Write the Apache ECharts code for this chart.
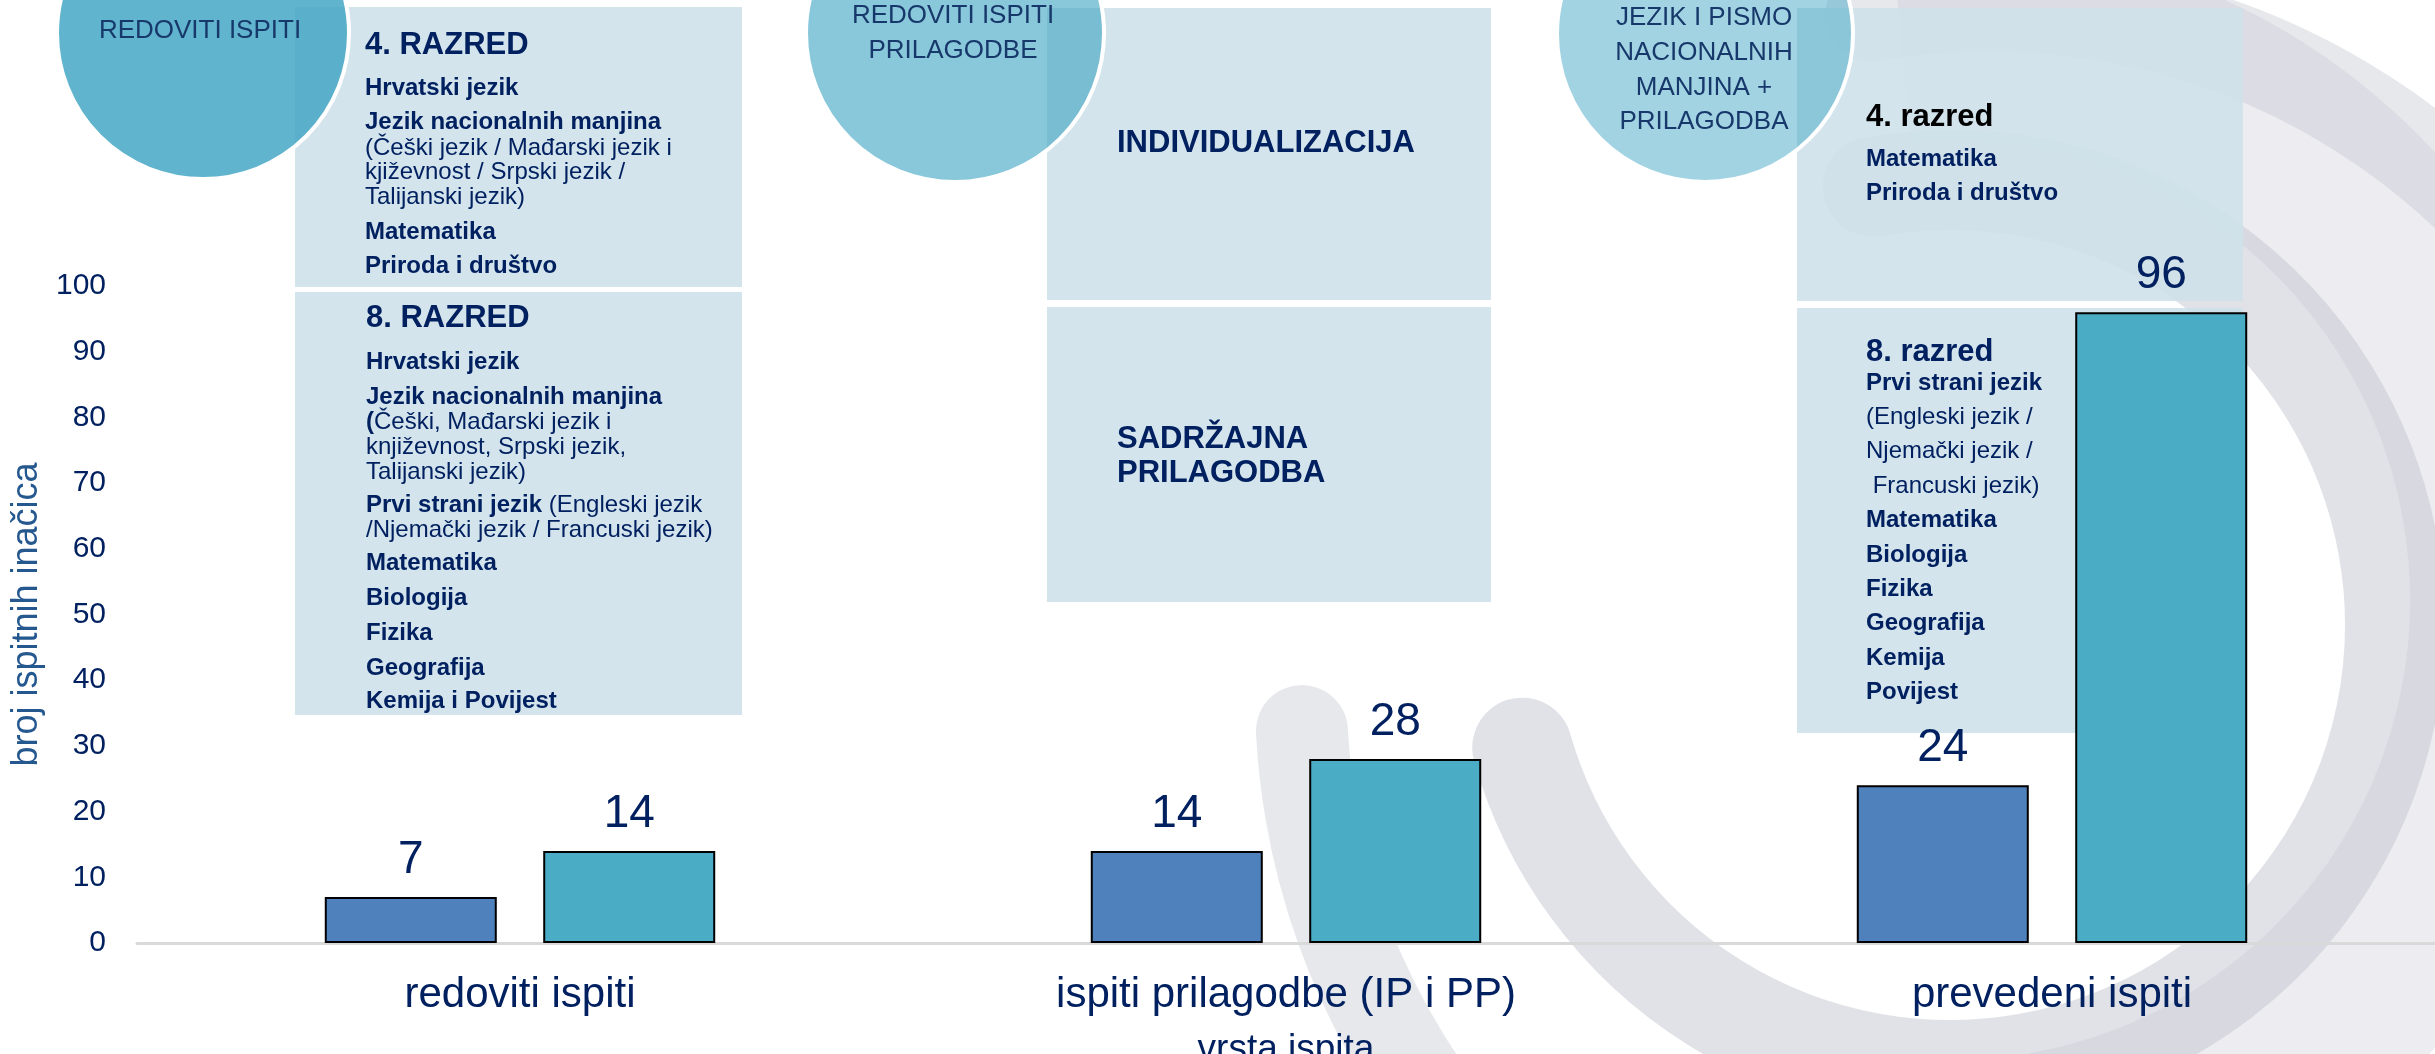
<!DOCTYPE html>
<html>
<head>
<meta charset="utf-8">
<title>broj ispitnih inačica</title>
<script src="https://cdn.jsdelivr.net/npm/echarts@6/dist/echarts.min.js"></script>
<style>
    html, body { margin: 0; padding: 0; background: #fff; }
    #main { width: 2435px; height: 1054px; }
</style>
</head>
<body>
<div id="main"></div>
<script>
// podaci
var categories = ['redoviti ispiti', 'ispiti prilagodbe (IP i PP)', 'prevedeni ispiti'];
var seriesNames = ['4. razred', '8. razred'];
var values4 = [7, 14, 24];
var values8 = [14, 28, 96];
var yMin = 0, yMax = 100, yStep = 10;

var FONT = 'Liberation Sans, Arial, sans-serif';
var NAVY = '#002060';

// tekst u okvirima: [y, tekst, vrsta]  h = naslov, b = bold, n = obično, r = rich, k = crni naslov
var boxA = [
    [45, '4. RAZRED', 'h'],
    [88, 'Hrvatski jezik', 'b'],
    [122, 'Jezik nacionalnih manjina', 'b'],
    [148, '(Češki jezik / Mađarski jezik i', 'n'],
    [172, 'kjiževnost / Srpski jezik /', 'n'],
    [197, 'Talijanski jezik)', 'n'],
    [232, 'Matematika', 'b'],
    [266, 'Priroda i društvo', 'b']
];
var boxB = [
    [318, '8. RAZRED', 'h'],
    [362, 'Hrvatski jezik', 'b'],
    [397, 'Jezik nacionalnih manjina', 'b'],
    [422, '{b|(}Češki, Mađarski jezik i', 'r'],
    [447, 'književnost, Srpski jezik,', 'n'],
    [472, 'Talijanski jezik)', 'n'],
    [505, '{b|Prvi strani jezik} (Engleski jezik', 'r'],
    [530, '/Njemački jezik / Francuski jezik)', 'n'],
    [563, 'Matematika', 'b'],
    [598, 'Biologija', 'b'],
    [633, 'Fizika', 'b'],
    [668, 'Geografija', 'b'],
    [701, 'Kemija i Povijest', 'b']
];
var boxC = [[143, 'INDIVIDUALIZACIJA', 'h']];
var boxD = [[439, 'SADRŽAJNA', 'h'], [473, 'PRILAGODBA', 'h']];
var boxE = [
    [117, '4. razred', 'k'],
    [159, 'Matematika', 'b'],
    [193, 'Priroda i društvo', 'b']
];
var boxF = [
    [352, '8. razred', 'h'],
    [383, 'Prvi strani jezik', 'b'],
    [417, '(Engleski jezik /', 'n'],
    [451, 'Njemački jezik /', 'n'],
    [486, ' Francuski jezik)', 'n'],
    [520, 'Matematika', 'b'],
    [555, 'Biologija', 'b'],
    [589, 'Fizika', 'b'],
    [623, 'Geografija', 'b'],
    [658, 'Kemija', 'b'],
    [692, 'Povijest', 'b']
];
var circle1 = [[31, 'REDOVITI ISPITI']];
var circle2 = [[16, 'REDOVITI ISPITI'], [51, 'PRILAGODBE']];
var circle3 = [[18, 'JEZIK I PISMO'], [53, 'NACIONALNIH'], [88, 'MANJINA +'], [122, 'PRILAGODBA']];

function lines(list, x) {
    return list.map(function (l) {
        var st = {
            text: l[1],
            fontFamily: FONT,
            fill: NAVY,
            fontSize: 24,
            fontWeight: 'bold',
            verticalAlign: 'middle',
            align: 'left'
        };
        if (l[2] === 'h' || l[2] === 'k') {
            st.fontSize = 31;
        }
        if (l[2] === 'k') {
            st.fill = '#000';
        }
        if (l[2] === 'n' || l[2] === 'r') {
            st.fontWeight = 'normal';
        }
        if (l[2] === 'r') {
            st.rich = {
                b: { fontWeight: 'bold', fontSize: 24, fontFamily: FONT, fill: NAVY }
            };
        }
        return { type: 'text', x: x, y: l[0], z: 1, z2: 10, silent: true, style: st };
    });
}

function circleLines(list, x) {
    return list.map(function (l) {
        return {
            type: 'text', x: x, y: l[0], z: 1, z2: 10, silent: true,
            style: {
                text: l[1], fontFamily: FONT, fontSize: 26, fill: '#17386A',
                align: 'center', verticalAlign: 'middle'
            }
        };
    });
}

function rect(x, y, w, h) {
    return {
        type: 'rect', z: 1, z2: 1, silent: true,
        shape: { x: x, y: y, width: w, height: h },
        style: { fill: 'rgba(206,225,234,0.9)' }
    };
}

function circle(cx, cy, r, alpha) {
    return {
        type: 'circle', z: 1, z2: 5, silent: true,
        shape: { cx: cx, cy: cy, r: r },
        style: { fill: 'rgba(70,168,197,' + alpha + ')', stroke: '#fff', lineWidth: 4 }
    };
}

// pozadinski luk (logo)
function arc(cx, cy, r, a0, a1, w, alpha, cap) {
    var deg = Math.PI / 180;
    return {
        type: 'arc', z: 0, silent: true,
        shape: { cx: cx, cy: cy, r: r, startAngle: a0 * deg, endAngle: a1 * deg, clockwise: true },
        style: { fill: null, stroke: 'rgba(195,197,207,' + alpha + ')', lineWidth: w, lineCap: cap }
    };
}

var rings = [
    arc(1991, 695, 690, -100, 177, 92, 0.4, 'round'),
    arc(1950, 600, 560, -95, 80, 200, 0.3, 'butt'),
    arc(1950, 625, 445, -100, 164, 100, 0.5, 'round')
];

var graphics = [].concat(
    rings,
    [
        rect(295, 7, 447, 280),
        rect(295, 292, 447, 423),
        rect(1047, 8, 444, 292),
        rect(1047, 307, 444, 295),
        rect(1797, 8, 446, 293),
        rect(1797, 308, 446, 425)
    ],
    [
        circle(203, 33, 146, 0.86),
        circle(955, 33, 149, 0.64),
        circle(1705, 34, 148, 0.5)
    ],
    lines(boxA, 365),
    lines(boxB, 366),
    lines(boxC, 1117),
    lines(boxD, 1117),
    lines(boxE, 1866),
    lines(boxF, 1866),
    circleLines(circle1, 200),
    circleLines(circle2, 953),
    circleLines(circle3, 1704)
);

var chart = echarts.init(document.getElementById('main'));

var option = {
    backgroundColor: '#fff',
    animation: false,
    textStyle: { fontFamily: FONT },
    grid: { left: 137, right: 0, top: 286, bottom: 111, containLabel: false, outerBoundsMode: 'none' },
    graphic: graphics,
    xAxis: {
        type: 'category',
        data: categories,
        axisLine: { lineStyle: { color: '#D9D9D9', width: 3 } },
        axisTick: { show: false },
        axisLabel: { fontSize: 42, color: NAVY, margin: 31, fontFamily: FONT },
        name: 'vrsta ispita',
        nameLocation: 'middle',
        nameGap: 88,
        nameTextStyle: { fontSize: 37, color: NAVY, fontFamily: FONT }
    },
    yAxis: {
        type: 'value',
        min: yMin,
        max: yMax,
        interval: yStep,
        axisLine: { show: false },
        axisTick: { show: false },
        splitLine: { show: false },
        axisLabel: { fontSize: 30, color: NAVY, margin: 31, fontFamily: FONT },
        name: 'broj ispitnih inačica',
        nameLocation: 'middle',
        nameRotate: 90,
        nameGap: 90,
        nameTextStyle: { fontSize: 36, color: '#24588F', fontFamily: FONT }
    },
    series: [
        {
            name: seriesNames[0],
            type: 'bar',
            data: values4,
            barWidth: 172,
            barGap: '27%',
            itemStyle: { color: '#4F81BD', borderColor: '#000', borderWidth: 2 },
            label: { show: true, position: 'top', distance: 14, fontSize: 46, color: NAVY, fontFamily: FONT }
        },
        {
            name: seriesNames[1],
            type: 'bar',
            data: values8,
            barWidth: 172,
            barGap: '27%',
            itemStyle: { color: '#4BACC6', borderColor: '#000', borderWidth: 2 },
            label: { show: true, position: 'top', distance: 14, fontSize: 46, color: NAVY, fontFamily: FONT }
        }
    ]
};

chart.setOption(option);
</script>
</body>
</html>
